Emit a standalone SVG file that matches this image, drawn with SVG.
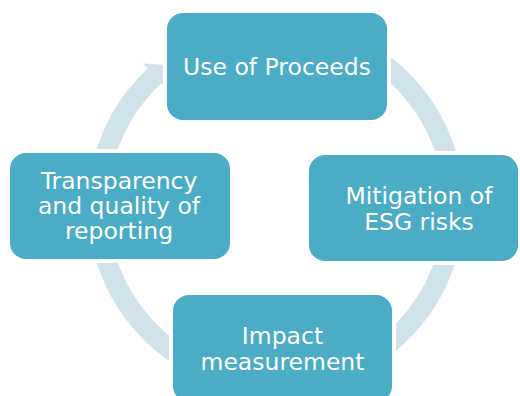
<svg xmlns="http://www.w3.org/2000/svg" width="520" height="396" viewBox="0 0 520 396">
  <defs>
    <style>
      .arc { fill: none; stroke: #D0E2EA; stroke-width: 20; stroke-linecap: butt; marker-end: url(#head); }
      .box { fill: #4BACC6; stroke: #FFFFFF; stroke-width: 8; paint-order: stroke; }
      .lbl { fill: #FFFFFF; font-family: "DejaVu Sans", Verdana, sans-serif; font-size: 23.5px; text-anchor: middle; }
    </style>
    <marker id="head" markerUnits="userSpaceOnUse" markerWidth="40" markerHeight="40" refX="0" refY="0" orient="auto" overflow="visible">
      <path d="M0,-17 L16,0 L0,17 Z" fill="#D0E2EA"/>
    </marker>
  </defs>

  <rect width="520" height="396" fill="#FFFFFF"/>

  <!-- cycle arrows: circle centred at (276,206), radius 178 -->
  <g id="connectors">
    <path class="arc" d="M101.7,169.9 A178,178 0 0 1 154.6,75.9"/>
    <path class="arc" d="M370,54.9 A178,178 0 0 1 451.3,175.1"/>
    <path class="arc" d="M447.9,252.1 A178,178 0 0 1 359.6,363.2"/>
    <path class="arc" d="M192.4,363.2 A178,178 0 0 1 101.9,243"/>
  </g>

  <g id="use-of-proceeds">
    <rect class="box" x="167" y="13" width="220" height="107" rx="16"/>
    <text class="lbl" x="277" y="75">Use of Proceeds</text>
  </g>

  <g id="mitigation">
    <rect class="box" x="309" y="155" width="209" height="106" rx="16"/>
    <text class="lbl" x="419" y="204">Mitigation of</text>
    <text class="lbl" x="419" y="229.5">ESG risks</text>
  </g>

  <g id="impact">
    <rect class="box" x="173" y="295" width="219" height="107" rx="16"/>
    <text class="lbl" x="282.5" y="344">Impact</text>
    <text class="lbl" x="282.5" y="369.5">measurement</text>
  </g>

  <g id="transparency">
    <rect class="box" x="10" y="153" width="220" height="106" rx="16"/>
    <text class="lbl" x="119" y="189.3">Transparency</text>
    <text class="lbl" x="119" y="214.3">and quality of</text>
    <text class="lbl" x="119" y="239.3">reporting</text>
  </g>
</svg>
